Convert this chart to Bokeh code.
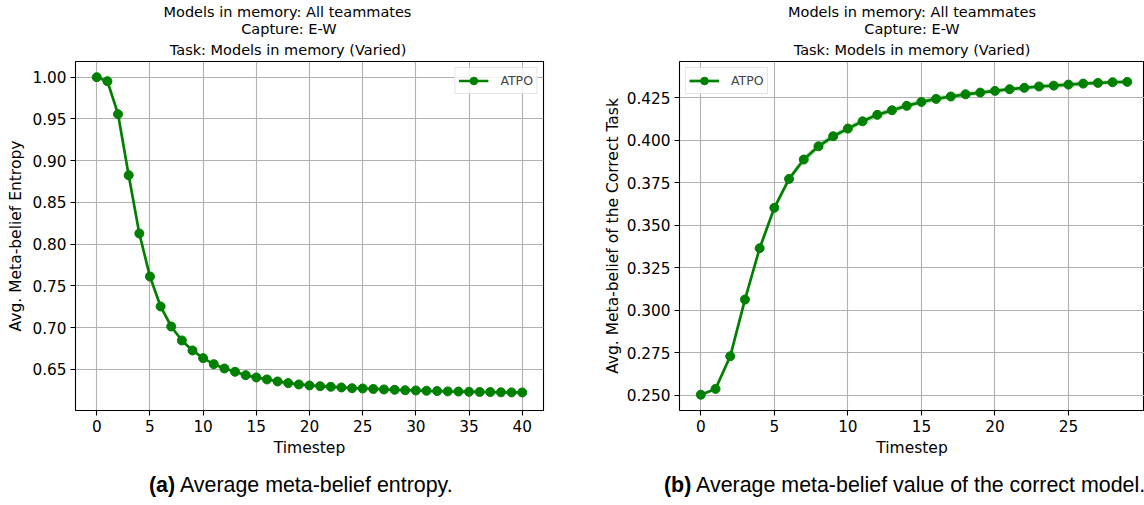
from bokeh.plotting import figure
from bokeh.layouts import row, column
from bokeh.models import (Range1d, FixedTicker, PrintfTickFormatter, Title,
                          Legend, LegendItem, ColumnDataSource, Div)
from bokeh.embed import file_html
from bokeh.resources import INLINE

# ---------------- data ----------------
timestep_a = list(range(41))
entropy_a = [1.0000, 0.9952, 0.9557, 0.8826, 0.8128, 0.7613, 0.7254, 0.7014,
             0.6847, 0.6727, 0.6635, 0.6563, 0.6511, 0.6472, 0.6431, 0.6404,
             0.6380, 0.6356, 0.6336, 0.6320, 0.6308, 0.6299, 0.6292, 0.6284,
             0.6275, 0.6272, 0.6266, 0.6260, 0.6256, 0.6251, 0.6248, 0.6244,
             0.6241, 0.6237, 0.6235, 0.6232, 0.6230, 0.6229, 0.6226, 0.6225,
             0.6224]

timestep_b = list(range(30))
belief_b = [0.2503, 0.2537, 0.2729, 0.3063, 0.3365, 0.3603, 0.3773, 0.3887,
            0.3965, 0.4024, 0.4069, 0.4112, 0.4150, 0.4177, 0.4203, 0.4226,
            0.4244, 0.4258, 0.4271, 0.4281, 0.4291, 0.4301, 0.4309, 0.4317,
            0.4322, 0.4328, 0.4334, 0.4338, 0.4342, 0.4344]
belief_std_b = [0.0003, 0.0006, 0.0010, 0.0014, 0.0016, 0.0018, 0.0019, 0.0019,
                0.0019, 0.0019, 0.0019, 0.0018, 0.0018, 0.0018, 0.0017, 0.0017,
                0.0017, 0.0016, 0.0016, 0.0016, 0.0016, 0.0015, 0.0015, 0.0015,
                0.0015, 0.0015, 0.0014, 0.0014, 0.0014, 0.0014]

series_name = "ATPO"
title_lines = ["Models in memory: All teammates", "Capture: E-W",
               "Task: Models in memory (Varied)"]
xlabel = "Timestep"
ylabel_a = "Avg. Meta-belief Entropy"
ylabel_b = "Avg. Meta-belief of the Correct Task"
caption_a = ["(a)", "Average meta-belief entropy."]
caption_b = ["(b)", "Average meta-belief value of the correct model."]

xticks_a = [0, 5, 10, 15, 20, 25, 30, 35, 40]
yticks_a = [0.65, 0.70, 0.75, 0.80, 0.85, 0.90, 0.95, 1.00]
xticks_b = [0, 5, 10, 15, 20, 25]
yticks_b = [0.250, 0.275, 0.300, 0.325, 0.350, 0.375, 0.400, 0.425]

GREEN = "#008000"
FONT = "DejaVu Sans"
FIG_H = 470
TOP = 61
BOTTOM = 60
CAP_H = 35


def style(p, xticks, yticks, yfmt, ylabel, ylabel_standoff):
    p.background_fill_color = "white"
    p.border_fill_color = "white"
    p.outline_line_color = "black"
    p.outline_line_width = 1.1
    for ax in (p.xaxis[0], p.yaxis[0]):
        ax.axis_line_color = None
        ax.major_tick_line_color = "black"
        ax.major_tick_line_width = 1.1
        ax.major_tick_out = 5
        ax.major_tick_in = 0
        ax.minor_tick_line_color = None
        ax.major_label_text_font = FONT
        ax.major_label_text_font_size = "15.3px"
        ax.major_label_text_color = "black"
        ax.axis_label_text_font = FONT
        ax.axis_label_text_font_size = "15.5px"
        ax.axis_label_text_font_style = "normal"
        ax.axis_label_text_color = "black"
    p.xaxis[0].major_label_standoff = 4
    p.yaxis[0].major_label_standoff = 4
    p.xaxis[0].ticker = FixedTicker(ticks=xticks)
    p.yaxis[0].ticker = FixedTicker(ticks=yticks)
    p.yaxis[0].formatter = PrintfTickFormatter(format=yfmt)
    p.xaxis[0].axis_label = xlabel
    p.xaxis[0].axis_label_standoff = 4
    p.yaxis[0].axis_label = ylabel
    p.yaxis[0].axis_label_standoff = ylabel_standoff
    p.xgrid[0].ticker = FixedTicker(ticks=xticks)
    p.ygrid[0].ticker = FixedTicker(ticks=yticks)
    for g in (p.xgrid[0], p.ygrid[0]):
        g.grid_line_color = "#b0b0b0"
        g.grid_line_width = 1.1


def add_titles(p, align, offsets):
    # innermost line first, outer lines added after
    standoffs = [0, -2, 7.5]
    for line, so, off in reversed(list(zip(title_lines, standoffs, offsets))):
        p.add_layout(Title(text=line, align=align, offset=off,
                           text_font=FONT, text_font_size="14.5px",
                           text_font_style="normal", text_color="black",
                           standoff=so), "above")


def make_legend(renderers, location):
    return Legend(items=[LegendItem(label=series_name, renderers=renderers)],
                  location=location, margin=6, padding=3, spacing=0,
                  label_text_font=FONT, label_text_font_size="12.5px",
                  glyph_width=30, glyph_height=19, label_height=19,
                  label_standoff=12, border_line_color="#cccccc",
                  border_line_width=1, background_fill_alpha=0.8)


def caption_div(parts, width, pad_left, size):
    html = ('<div style="font-family:\'Liberation Sans\', Arial, sans-serif;'
            'font-size:%s;line-height:21px;padding-top:5px;padding-left:%dpx;'
            'white-space:nowrap;color:black;"><b>%s</b> %s</div>'
            % (size, pad_left, parts[0], parts[1]))
    return Div(text=html, width=width, height=CAP_H, margin=0)


# ---------------- (a) ----------------
pa = figure(width=560, height=FIG_H, x_range=Range1d(-2, 42),
            y_range=Range1d(0.6008, 1.0188), output_backend="svg",
            toolbar_location=None, min_border_left=75, min_border_right=17,
            min_border_top=TOP, min_border_bottom=BOTTOM)
src_a = ColumnDataSource(data=dict(x=timestep_a, y=entropy_a))
la = pa.line("x", "y", source=src_a, line_color=GREEN, line_width=2.7)
sa = pa.scatter("x", "y", source=src_a, size=9, fill_color=GREEN,
                line_color=GREEN, marker="circle")
style(pa, xticks_a, yticks_a, "%.2f", ylabel_a, 4)
pa.add_layout(make_legend([la, sa], "top_right"))
add_titles(pa, "left", [88, 165.7, 94.3])

# ---------------- (b) ----------------
pb = figure(width=584, height=FIG_H, x_range=Range1d(-1.45, 30.17),
            y_range=Range1d(0.2410, 0.4464), output_backend="svg",
            toolbar_location=None, min_border_left=119, min_border_right=0,
            min_border_top=TOP, min_border_bottom=BOTTOM)
lower_b = [m - s for m, s in zip(belief_b, belief_std_b)]
upper_b = [m + s for m, s in zip(belief_b, belief_std_b)]
src_b = ColumnDataSource(data=dict(x=timestep_b, y=belief_b, lo=lower_b, hi=upper_b))
pb.varea(x="x", y1="lo", y2="hi", source=src_b, fill_color=GREEN, fill_alpha=0.2)
lb = pb.line("x", "y", source=src_b, line_color=GREEN, line_width=2.7)
sb = pb.scatter("x", "y", source=src_b, size=9, fill_color=GREEN,
                line_color=GREEN, marker="circle")
style(pb, xticks_b, yticks_b, "%.3f", ylabel_b, 2)
pb.add_layout(make_legend([lb, sb], "top_left"))
add_titles(pb, "center", [0, 0, 0])

cap_a = caption_div(caption_a, 560, 149, "21.4px")
cap_b = caption_div(caption_b, 584, 104, "21.4px")

layout = column(row(pa, pb), row(cap_a, cap_b))
open("out.html", "w").write(file_html(layout, INLINE))
